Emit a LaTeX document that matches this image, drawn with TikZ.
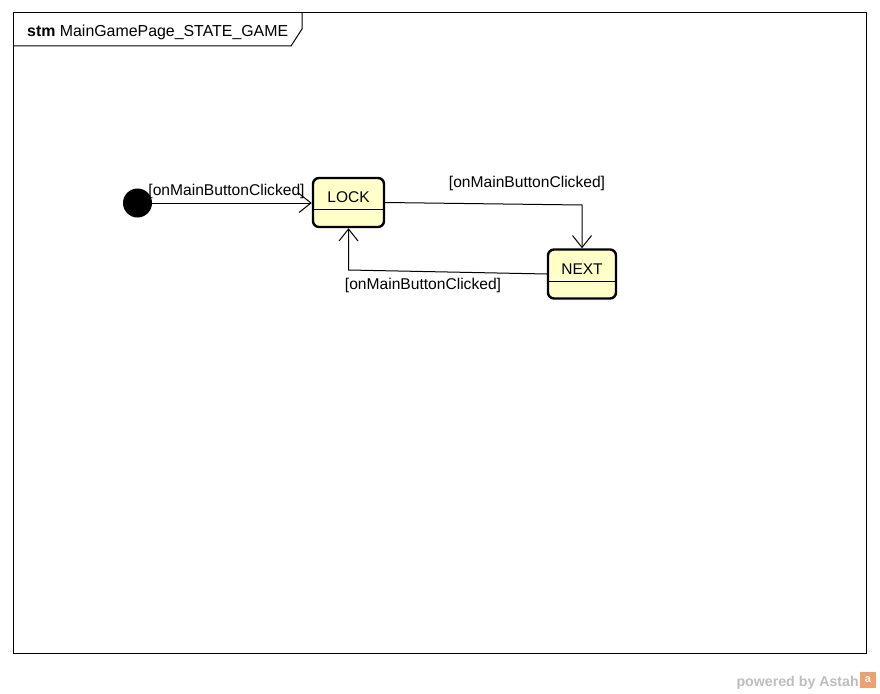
\documentclass[tikz,border=0pt]{standalone}
\usepackage{fontspec}
\setmainfont{Liberation Sans}
\usetikzlibrary{arrows.meta,calc}

\definecolor{statefill}{RGB}{255,255,200}
\definecolor{astahgray}{RGB}{190,190,190}
\definecolor{astahorange}{RGB}{240,160,110}

\tikzset{
    statebox/.style={draw, line width=2.4pt, rounded corners=6pt, fill=statefill,
        minimum width=#1, minimum height=49pt, inner sep=0pt},
    statename/.style={font=\fontsize{15.5}{18}\selectfont, inner sep=0pt},
    guard/.style={font=\fontsize{15.6}{18}\selectfont, inner sep=0pt},
    trans/.style={line width=1pt, -{Straight Barb[length=12pt,width=19pt,line width=1pt]}},
}

\begin{document}
\begin{tikzpicture}[x=1pt,y=-1pt]

% 定义画布大小
\useasboundingbox[fill=white] (0,0) rectangle (880,693);

% 外框和标签
\draw[line width=1pt] (13,13) rectangle (866,653);
\draw[line width=1pt] (302,13) -- (302,29) -- (291,46) -- (13,46);
\node[font=\fontsize{15.9}{18}\selectfont, inner sep=0pt, anchor=base west] (title) at (27,37) {\textbf{stm} MainGamePage\_STATE\_GAME};

% 状态
\node[circle, fill=black, minimum size=29pt, inner sep=0pt] (init) at (137.5,203) {};
\node[statebox=71pt] (lock) at (348.5,202.5) {};
\node[statebox=68pt] (next) at (582,274) {};
\draw[line width=1pt] ([yshift=-6.5pt]lock.west) -- ([yshift=-6.5pt]lock.east);
\draw[line width=1pt] ([yshift=-7pt]next.west) -- ([yshift=-7pt]next.east);
\node[statename] (locktext) at ([yshift=5.5pt]lock.center) {LOCK};
\node[statename] (nexttext) at ([yshift=5pt]next.center) {NEXT};

% 转移
\coordinate (bend1) at (582,205);
\coordinate (bend2) at (348.5,270);
\draw[trans] (init) -- (init -| lock.west);
\draw[trans] (lock.east) -- (bend1) -- (next.north);
\draw[trans] (next.west) -- (bend2) -- (lock.south);

% 转移条件
\node[guard] (guard1) at (226.5,191) {[onMainButtonClicked]};
\node[guard] (guard2) at (527,183) {[onMainButtonClicked]};
\node[guard] (guard3) at (423,285) {[onMainButtonClicked]};

% 水印
\node[font=\bfseries\fontsize{14.2}{16}\selectfont, text=astahgray, anchor=base east, inner sep=0pt] (powered) at (859,686) {powered by Astah};
\node[fill=astahorange, minimum width=16pt, minimum height=16pt, inner sep=0pt, text=white,
    font=\bfseries\fontsize{11}{12}\selectfont] (logo) at (868,680) {a};

\end{tikzpicture}
\end{document}
